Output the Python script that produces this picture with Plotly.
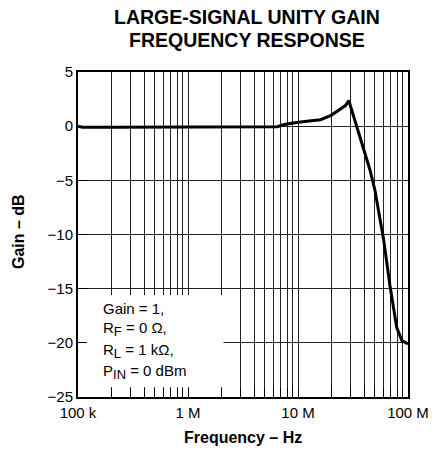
import plotly.graph_objects as go

# Data
freq_hz = [1.0e5, 1.1e5, 2.0e5, 5.0e5, 1.0e6, 2.0e6, 5.0e6, 6.5e6, 7.5e6, 9.0e6,
           1.2e7, 1.6e7, 2.0e7, 2.4e7, 2.7e7, 2.9e7, 3.3e7, 3.9e7, 4.5e7, 5.0e7,
           5.5e7, 6.0e7, 6.85e7, 7.9e7, 8.8e7, 9.7e7, 1.0e8]
gain_db = [0.0, -0.1, -0.1, -0.1, -0.1, -0.1, -0.1, -0.05, 0.15, 0.3,
           0.45, 0.6, 1.0, 1.5, 1.9, 2.35, 0.5, -2.0, -4.0, -5.9,
           -8.2, -10.45, -14.7, -18.6, -19.8, -20.0, -20.1]

x_major = [1e5, 1e6, 1e7, 1e8]
x_major_text = ["100 k", "1 M", "10 M", "100 M"]
x_minor = [d * m for d in [1e5, 1e6, 1e7] for m in range(2, 10)]
y_ticks = [5, 0, -5, -10, -15, -20, -25]
y_tick_text = ["5", "0", "\u22125", "\u221210", "\u221215", "\u221220", "\u221225"]

notes = ["Gain = 1,",
         "R<sub><span style='font-size:13px'>F</span></sub> = 0 \u03a9,",
         "R<sub><span style='font-size:13px'>L</span></sub> = 1 k\u03a9,",
         "P<sub><span style='font-size:13px'>IN</span></sub> = 0 dBm"]

FONT = "Liberation Sans, Arial, sans-serif"
GRID = "#222222"

# page body has an 8px margin: plot area targeted at x 78..408, y 72..397
fig = go.Figure()
fig.add_trace(go.Scatter(x=freq_hz, y=gain_db, mode="lines",
                         line=dict(color="black", width=3), showlegend=False))

fig.update_layout(
    width=434, height=448,
    margin=dict(l=70, r=34, t=64, b=59, autoexpand=False),
    paper_bgcolor="white", plot_bgcolor="white",
    font=dict(family=FONT, size=15, color="black"),
    showlegend=False,
)
fig.update_xaxes(
    type="log", range=[5, 8], automargin=False,
    tickmode="array", tickvals=x_major, ticktext=x_major_text, tickangle=0,
    ticks="inside", ticklen=9, tickwidth=1, tickcolor="black",
    ticklabelstandoff=1,
    showgrid=True, gridcolor=GRID, gridwidth=1,
    minor=dict(tickmode="array", tickvals=x_minor, ticks="inside", ticklen=9,
               tickwidth=1, tickcolor="black", showgrid=True,
               gridcolor=GRID, gridwidth=1),
    showline=True, linecolor="black", linewidth=2, mirror=True,
    zeroline=False, tickfont=dict(size=15),
)
fig.update_yaxes(
    range=[-25, 5], automargin=False,
    tickmode="array", tickvals=y_ticks, ticktext=y_tick_text,
    ticks="inside", ticklen=9, tickwidth=1, tickcolor="black",
    showgrid=True, gridcolor=GRID, gridwidth=1,
    showline=True, linecolor="black", linewidth=2, mirror=True,
    zeroline=False, tickfont=dict(size=15),
)

# white box behind the notes (covers grid, below trace & axes)
fig.add_shape(type="rect", xref="x", yref="y",
              x0=1e5, x1=2.1e6, y0=-24.1, y1=-15.6,
              fillcolor="white", line=dict(width=0), layer="between")

def py(p):
    return (397 - p) / 325

def px(p):
    return (p - 78) / 330

note_y = [308, 329, 351, 372]
for t, yy in zip(notes, note_y):
    fig.add_annotation(text=t, xref="paper", yref="paper", x=px(101), y=py(yy),
                       xanchor="left", yanchor="middle", showarrow=False,
                       font=dict(size=15))

# title
fig.add_annotation(text="<b>LARGE-SIGNAL UNITY GAIN</b>", xref="paper", yref="paper",
                   x=px(247), y=py(17), xanchor="center", yanchor="middle",
                   showarrow=False, font=dict(size=19.5))
fig.add_annotation(text="<b>FREQUENCY RESPONSE</b>", xref="paper", yref="paper",
                   x=px(247), y=py(40), xanchor="center", yanchor="middle",
                   showarrow=False, font=dict(size=19.5))
# axis titles
fig.add_annotation(text="<b>Frequency \u2013 Hz</b>", xref="paper", yref="paper",
                   x=px(243), y=py(437), xanchor="center", yanchor="middle",
                   showarrow=False, font=dict(size=16))
fig.add_annotation(text="<b>Gain \u2013 dB</b>", xref="paper", yref="paper",
                   x=px(18), y=py(232), xanchor="center", yanchor="middle",
                   textangle=-90, showarrow=False, font=dict(size=16))

fig.write_html("out.html")
